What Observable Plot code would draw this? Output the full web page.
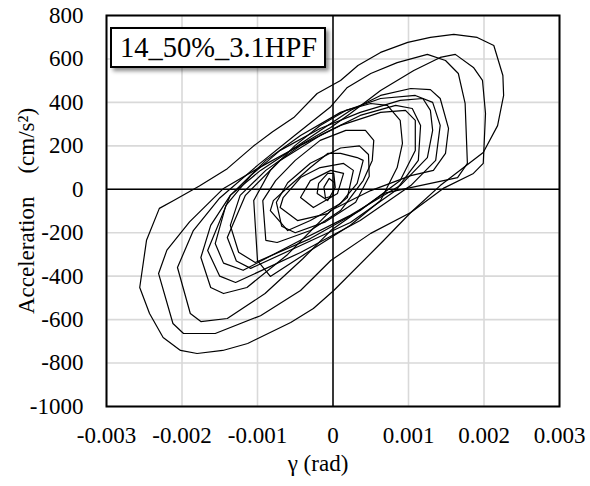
<!DOCTYPE html>
<html>
<head>
<meta charset="utf-8">
<script src="https://cdn.jsdelivr.net/npm/d3@7"></script>
<script src="https://cdn.jsdelivr.net/npm/@observablehq/plot@0.6"></script>
<style>
  body { margin: 0; background: #fff; }
  #wrap { position: relative; width: 590px; height: 486px; }
  .tag { position: absolute; left: 110px; top: 27px; width: 216px; height: 41px; box-sizing: border-box;
         border: 2px solid #000; background: #fff; box-shadow: 3px 3px 4px rgba(0,0,0,0.45);
         font-family: "Liberation Serif", "Times New Roman", serif; font-size: 28.5px; line-height: 37px; padding-left: 8px; color: #000; white-space: nowrap; }
</style>
</head>
<body>
<div id="wrap"></div>
<script>
const tagText = "14_50%_3.1HPF";
const xLabel = "γ (rad)";
const yLabel = "Acceleration\u00a0\u00a0\u00a0\u00a0(cm/s²)";
const xTicks = [-0.003, -0.002, -0.001, 0, 0.001, 0.002, 0.003];
const yTicks = [-1000, -800, -600, -400, -200, 0, 200, 400, 600, 800];

// hysteresis loops: [shear strain γ (rad), acceleration (cm/s²)]
const loopA = [[-0.00230,-88],[-0.00247,-235],[-0.00256,-452],[-0.00243,-572],[-0.00225,-682],[-0.00202,-742],[-0.00180,-756],[-0.00146,-742],[-0.00113,-710],[-0.00056,-613],[-0.00026,-549],[0.00001,-466],[0.00067,-236],[0.00103,-107],[0.00142,17],[0.00199,169],[0.00218,293],[0.00226,432],[0.00225,524],[0.00213,662],[0.00191,699],[0.00160,713],[0.00129,699],[0.00099,676],[0.00063,630],[0.00033,570],[0.00010,501],[-0.00021,441],[-0.00052,330],[-0.00080,265],[-0.00105,200],[-0.00140,95],[-0.00177,15],[-0.00211,-52],[-0.00230,-88]];
const loopB = [[-0.00231,-388],[-0.00212,-618],[-0.00198,-664],[-0.00156,-664],[-0.00096,-582],[-0.00043,-466],[-0.00003,-328],[0.00050,-203],[0.00103,-107],[0.00146,4],[0.00186,73],[0.00199,119],[0.00202,349],[0.00198,501],[0.00186,561],[0.00162,621],[0.00142,607],[0.00107,547],[0.00063,455],[0.00023,349],[-0.00003,284],[-0.00050,190],[-0.00100,95],[-0.00145,4],[-0.00190,-150],[-0.00220,-280],[-0.00231,-388]];
const loopC = [[-0.00206,-360],[-0.00189,-572],[-0.00175,-609],[-0.00140,-595],[-0.00090,-480],[-0.00040,-320],[-0.00003,-190],[0.00067,-19],[0.00165,54],[0.00178,119],[0.00175,395],[0.00166,533],[0.00149,593],[0.00125,621],[0.00085,583],[0.00050,533],[0.00019,469],[-0.00003,380],[-0.00050,250],[-0.00100,110],[-0.00150,-40],[-0.00185,-190],[-0.00206,-360]];
const loopD = [[-0.00175,-314],[-0.00162,-452],[-0.00145,-480],[-0.00114,-452],[-0.00060,-300],[-0.00003,-98],[0.00050,-6],[0.00103,63],[0.00133,87],[0.00149,165],[0.00153,280],[0.00142,418],[0.00129,459],[0.00103,464],[0.00063,432],[0.00023,363],[-0.00017,271],[-0.00056,179],[-0.00096,87],[-0.00136,-28],[-0.00162,-166],[-0.00175,-314]];
const loopE = [[-0.00156,-250],[-0.00145,-340],[-0.00119,-373],[-0.00043,-235],[0.00023,-120],[0.00089,17],[0.00125,146],[0.00132,271],[0.00129,363],[0.00119,418],[0.00089,409],[0.00036,354],[-0.00017,280],[-0.00070,179],[-0.00109,63],[-0.00142,-75],[-0.00156,-250]];
const loopF = [[-0.00140,-222],[-0.00128,-330],[-0.00109,-364],[-0.00043,-259],[0.00023,-153],[0.00083,-6],[0.00113,133],[0.00116,294],[0.00105,372],[0.00083,386],[0.00036,340],[-0.00017,248],[-0.00070,133],[-0.00116,-28],[-0.00140,-222]];
const loopG = [[-0.00136,-166],[-0.00125,-290],[-0.00103,-337],[-0.00030,-227],[0.00036,-98],[0.00089,40],[0.00109,179],[0.00109,317],[0.00096,363],[0.00063,354],[0.00010,294],[-0.00043,202],[-0.00089,87],[-0.00123,-28],[-0.00136,-166]];
const loopH = [[-0.00166,-282],[-0.00150,-400],[-0.00129,-429],[-0.00043,-291],[0.00036,-144],[0.00103,17],[0.00136,133],[0.00142,294],[0.00132,400],[0.00109,432],[0.00063,418],[0.00010,354],[-0.00043,248],[-0.00089,133],[-0.00136,-28],[-0.00166,-282]];
const loopI = [[-0.00105,-52],[-0.00100,-328],[-0.00083,-401],[-0.00030,-282],[0.00023,-166],[0.00063,-52],[0.00085,100],[0.00092,211],[0.00089,317],[0.00072,386],[0.00050,395],[0.00017,363],[-0.00017,294],[-0.00050,202],[-0.00083,87],[-0.00105,-52]];
const loopJ = [[-0.00093,-52],[-0.00089,-235],[-0.00074,-245],[-0.00030,-190],[0.00010,-98],[0.00040,40],[0.00052,133],[0.00054,225],[0.00043,271],[0.00017,271],[-0.00017,225],[-0.00050,133],[-0.00076,40],[-0.00093,-52]];
const loopQ = [[-0.00075,-60],[-0.00068,-170],[-0.00050,-200],[-0.00010,-150],[0.00030,-60],[0.00048,60],[0.00047,160],[0.00035,200],[0.00010,190],[-0.00030,120],[-0.00060,30],[-0.00075,-60]];
const loopK = [[-0.00083,-98],[-0.00060,-190],[-0.00030,-144],[0.00010,-65],[0.00032,27],[0.00040,133],[0.00032,146],[0.00010,165],[-0.00007,165],[-0.00030,100],[-0.00060,8],[-0.00079,-52],[-0.00083,-98]];
const loopL = [[-0.00070,-84],[-0.00047,-144],[-0.00007,-112],[0.00019,-38],[0.00027,87],[0.00014,119],[-0.00017,100],[-0.00043,54],[-0.00066,-38],[-0.00070,-84]];
const loopM = [[-0.00043,-38],[-0.00026,-84],[0.00006,-19],[0.00014,73],[-0.00003,87],[-0.00030,40],[-0.00043,-38]];
const loopN = [[-0.00021,-19],[-0.00007,-52],[0.00003,8],[0.00001,73],[-0.00007,73],[-0.00019,27],[-0.00021,-19]];
const loopO = [[-0.00010,-40],[0.00000,-30],[0.00002,30],[-0.00005,50],[-0.00012,10],[-0.00010,-40]];

const loops = {A: loopA, B: loopB, C: loopC, D: loopD, E: loopE, F: loopF, G: loopG, H: loopH,
               I: loopI, J: loopJ, Q: loopQ, K: loopK, L: loopL, M: loopM, N: loopN, O: loopO};
const rows = Object.entries(loops).flatMap(([id, pts]) => pts.map(([g, a]) => ({loop: id, g, a})));

const fmt = d => String(d);
const chart = Plot.plot({
  width: 590, height: 486,
  marginTop: 15, marginRight: 31, marginBottom: 80, marginLeft: 106,
  style: {fontFamily: "'Liberation Serif', 'Times New Roman', serif", fontSize: "23px", background: "#fff", color: "#000"},
  x: {domain: [-0.003, 0.003]},
  y: {domain: [-1000, 800]},
  marks: [
    Plot.gridX(xTicks, {stroke: "#d9d9d9", strokeOpacity: 1, strokeWidth: 1.6}),
    Plot.gridY(yTicks, {stroke: "#d9d9d9", strokeOpacity: 1, strokeWidth: 1.6}),
    Plot.ruleX([0], {stroke: "#000", strokeWidth: 1.5}),
    Plot.ruleY([0], {stroke: "#000", strokeWidth: 1.5}),
    Plot.line(rows, {x: "g", y: "a", z: "loop", stroke: "#000", strokeWidth: 1.2}),
    Plot.frame({stroke: "#000", strokeWidth: 2}),
    Plot.axisX(xTicks, {tickSize: 0, tickPadding: 20, tickFormat: fmt, label: null, fontSize: 23}),
    Plot.axisY(yTicks, {tickSize: 0, tickPadding: 23, tickFormat: fmt, label: null, fontSize: 23}),
    Plot.text([xLabel], {text: d => d, frameAnchor: "bottom", lineAnchor: "middle", dx: -15, dy: 57, fontSize: 23}),
    Plot.text([yLabel], {text: d => d, frameAnchor: "left", textAnchor: "middle", lineAnchor: "middle", dx: -80, rotate: -90, fontSize: 23})
  ]
});
const wrap = document.getElementById("wrap");
wrap.appendChild(chart);
const tag = document.createElement("div");
tag.className = "tag";
tag.textContent = tagText;
wrap.appendChild(tag);
</script>
</body>
</html>
